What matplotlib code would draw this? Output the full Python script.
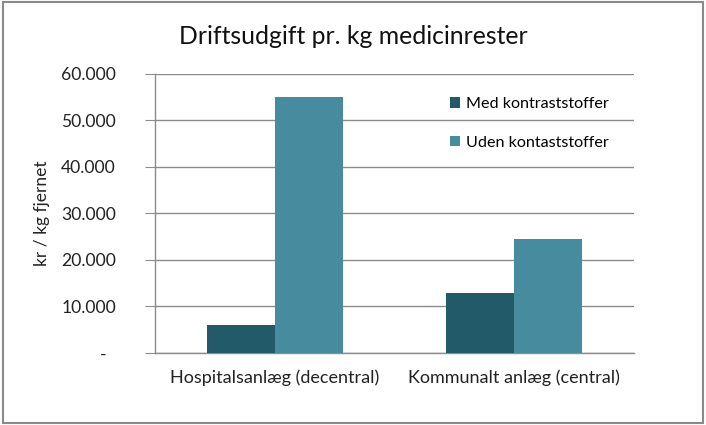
import numpy as np
import matplotlib
matplotlib.use('Agg')
import matplotlib.pyplot as plt
from matplotlib.patches import Rectangle

plt.rcParams['font.family'] = ['Lato', 'DejaVu Sans']

# data
kategorier = ['Hospitalsanlæg (decentral)', 'Kommunalt anlæg (central)']
med_kontrast = [6000, 13000]
uden_kontrast = [55000, 24500]
serier = ['Med kontraststoffer', 'Uden kontaststoffer']
yticks = [0, 10000, 20000, 30000, 40000, 50000, 60000]
yticklabels = ['-  ', '10.000', '20.000', '30.000', '40.000', '50.000', '60.000']

farve_mork = '#235a69'
farve_lys = '#468c9e'
graa = '#8c8c8c'

fig = plt.figure(figsize=(7.06, 4.25), dpi=100)
ax = fig.add_axes([0.2195, 0.1694, 0.6785, 0.6566])

x = np.arange(len(kategorier))
b = 0.284
ax.bar(x - b/2, med_kontrast, b, color=farve_mork, label=serier[0], zorder=3)
ax.bar(x + b/2, uden_kontrast, b, color=farve_lys, label=serier[1], zorder=3)

ax.set_xlim(-0.5, 1.5)
ax.set_ylim(0, 60000)
ax.set_yticks(yticks)
ax.set_yticklabels(yticklabels)
ax.set_xticks(x)
ax.set_xticklabels(kategorier)
ax.yaxis.grid(True, color=graa, linewidth=1, zorder=0)

for s in ['top', 'right']:
    ax.spines[s].set_visible(False)
for s in ['left', 'bottom']:
    ax.spines[s].set_color(graa)
    ax.spines[s].set_linewidth(1)

ax.tick_params(axis='y', length=7, color=graa, pad=21, labelsize=12.6, labelcolor='#222222')
ax.tick_params(axis='x', length=0, pad=12, labelsize=13, labelcolor='#222222')

ax.set_ylabel('kr / kg fjernet', fontsize=12.5, color='#222222', labelpad=8)
fig.text(0.5, 0.915, 'Driftsudgift pr. kg medicinrester', ha='center', va='center',
         fontsize=17.8, color='#111111')

ax.legend(loc='upper left', bbox_to_anchor=(0.585, 0.968), frameon=False, fontsize=11.6,
          handlelength=0.65, handleheight=0.65, handletextpad=0.35, labelspacing=1.5)

# ramme om figuren
fig.patches.append(Rectangle((0.004, 0.005), 0.992, 0.99, transform=fig.transFigure,
                             fill=False, edgecolor='#8a8a8a', linewidth=1.5))

fig.savefig('out.png', dpi=100)
